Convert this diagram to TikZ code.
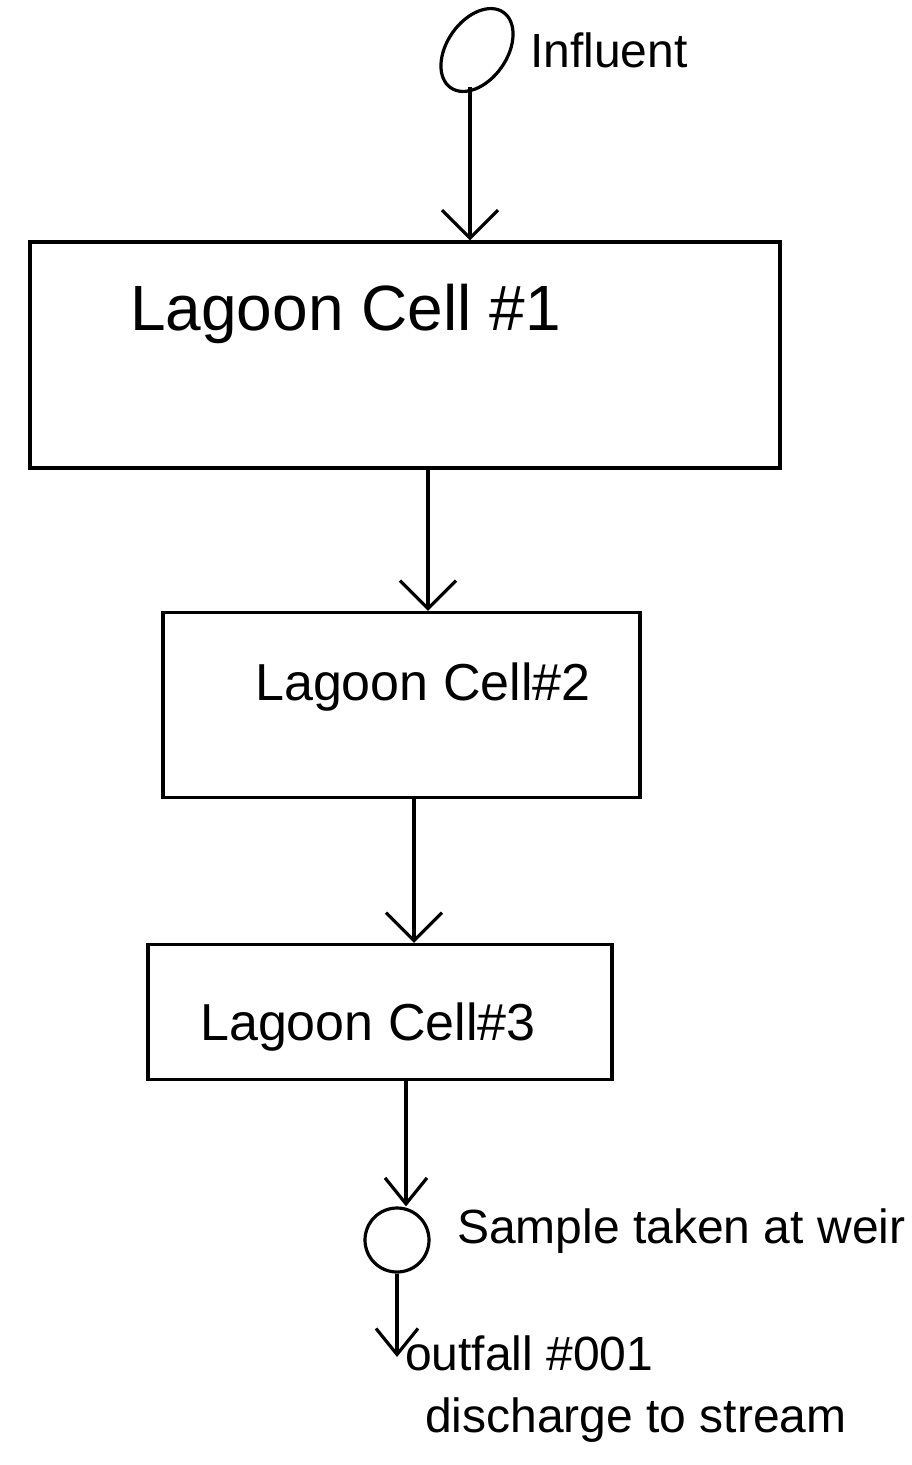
\documentclass[tikz,border=0pt]{standalone}
\usepackage{fontspec}
\setmainfont{Liberation Sans}
\usetikzlibrary{arrows.meta,calc,shapes.geometric}
\begin{document}
\begin{tikzpicture}[x=1pt,y=-1pt,
  ink/.style={line width=3.2pt,black},
  cell/.style={ink,draw,rectangle,inner sep=0pt},
  flow/.style={ink,-{Straight Barb[length=28pt,width=56pt,line width=3.2pt]}},
  smallflow/.style={ink,-{Straight Barb[length=26pt,width=42pt,line width=3.2pt]}},
  lbl/.style={anchor=base west,inner sep=0pt},
  big/.style={font=\fontsize{64}{70}\selectfont},
  mid/.style={font=\fontsize{52}{58}\selectfont},
  small/.style={font=\fontsize{48}{52}\selectfont}]
\useasboundingbox (0,0) rectangle (912,1465);
\fill[white] (0,0) rectangle (912,1465);

% influent
\node[ink,draw,ellipse,minimum width=92pt,minimum height=60pt,rotate=55,inner sep=0pt] (in) at (477,50) {};
\node[lbl,small] (intext) at (530,67) {Influent};
\coordinate (inout) at (470,87);

% boxes
\node[cell,minimum width=750pt,minimum height=226pt] (c1) at (405,355) {};
\node[lbl,big] (t1) at (130,330) {Lagoon Cell \#1};
\node[cell,minimum width=477pt,minimum height=185pt] (c2) at (401.5,705) {};
\node[lbl,mid] (t2) at (255,700) {Lagoon Cell\#2};
\node[cell,minimum width=464pt,minimum height=135pt] (c3) at (380,1012) {};
\node[lbl,mid] (t3) at (200,1040) {Lagoon Cell\#3};

% sample point
\node[ink,draw,ellipse,minimum width=64pt,minimum height=64pt,inner sep=0pt] (smp) at (397,1240) {};
\node[lbl,small] (stext) at (457,1243) {Sample taken at weir};

% outfall
\coordinate (outend) at (397,1357);
\node[lbl,small] (otext) at (405,1370) {outfall \#001};
\node[lbl,small] (dtext) at (425,1432) {discharge to stream};

% connector x positions
\coordinate (xa) at (428,0);
\coordinate (xb) at (414,0);
\coordinate (xc) at (406,0);

% connectors
\draw[flow] (inout) -- (inout |- c1.north);
\draw[flow] (c1.south -| xa) -- (c2.north -| xa);
\draw[flow] (c2.south -| xb) -- (c3.north -| xb);
\draw[smallflow] (c3.south -| xc) -- (smp.north -| xc);
\draw[smallflow] (smp.south) -- (outend);
\end{tikzpicture}
\end{document}
